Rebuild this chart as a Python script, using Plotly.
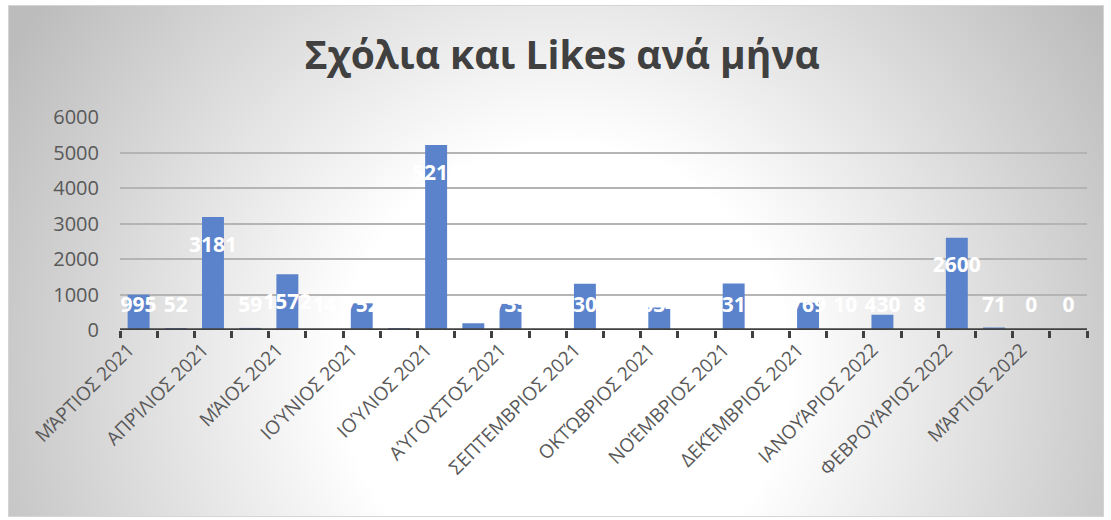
import base64
import plotly.graph_objects as go

# Month labels (one per pair of rows) and the monthly counts, in row order
months = [
    "ΜΆΡΤΙΟΣ 2021", "ΑΠΡΊΛΙΟΣ 2021", "ΜΆΙΟΣ 2021", "ΙΟΎΝΙΟΣ 2021",
    "ΙΟΎΛΙΟΣ 2021", "ΑΎΓΟΥΣΤΟΣ 2021", "ΣΕΠΤΕΜΒΡΙΟΣ 2021", "ΟΚΤΏΒΡΙΟΣ 2021",
    "ΝΟΈΜΒΡΙΟΣ 2021", "ΔΕΚΈΜΒΡΙΟΣ 2021", "ΙΑΝΟΥΆΡΙΟΣ 2022", "ΦΕΒΡΟΥΆΡΙΟΣ 2022",
    "ΜΆΡΤΙΟΣ 2022",
]
values = [
    995, 52, 3181, 59, 1572, 14, 752, 31, 5211, 190, 735, 23, 1302,
    18, 634, 21, 1313, 12, 769, 10, 430, 8, 2600, 71, 0, 0,
]
y_ticks = [0, 1000, 2000, 3000, 4000, 5000, 6000]

W, H = 1111, 520
ML, MR, MT, MB = 120, 24, 117, 190
PW, PH = W - ML - MR, H - MT - MB

positions = list(range(len(values)))

# Chart-area backdrop: soft radial gradient with a thin frame
AX0, AY0, AX1, AY1 = 8, 5, 1104, 517
aw, ah = AX1 - AX0, AY1 - AY0
svg = f"""<svg xmlns='http://www.w3.org/2000/svg' width='{aw}' height='{ah}' viewBox='0 0 {aw} {ah}' preserveAspectRatio='none'>
<defs><radialGradient id='g' gradientUnits='userSpaceOnUse' cx='{565-AX0}' cy='{370-AY0}' r='640'>
<stop offset='0' stop-color='#ffffff'/><stop offset='0.35' stop-color='#ffffff'/>
<stop offset='1' stop-color='#bcbcbc'/></radialGradient></defs>
<rect x='0.5' y='0.5' width='{aw-1}' height='{ah-1}' fill='url(#g)' stroke='#d4d4d4' stroke-width='1'/></svg>"""
bg_src = "data:image/svg+xml;base64," + base64.b64encode(svg.encode()).decode()

# Data labels sit just inside the top of each bar, never lower than a floor
label_offset = 830
label_floor = 648
label_y = [max(v - label_offset, label_floor) for v in values]

fig = go.Figure()
fig.add_trace(go.Bar(
    x=positions, y=values,
    marker=dict(color="#5B83CC", line=dict(width=0)),
    hoverinfo="y",
))
fig.add_trace(go.Scatter(
    x=positions, y=label_y, mode="text",
    text=[str(v) for v in values],
    textposition="middle center",
    textfont=dict(family="Open Sans", size=21, color="white", weight="bold"),
    hoverinfo="skip",
))

# Category axis baseline drawn over the foot of the bars
fig.add_shape(
    type="line", xref="paper", yref="y", x0=0, x1=1, y0=0, y1=0,
    line=dict(color="#404040", width=3.5), layer="above",
)

fig.update_layout(
    width=W, height=H,
    margin=dict(l=ML, r=MR, t=MT, b=MB),
    paper_bgcolor="white",
    plot_bgcolor="rgba(0,0,0,0)",
    showlegend=False,
    bargap=0.41,
    title=dict(
        text="<b>Σχόλια και Likes ανά μήνα</b>",
        x=0.506, xanchor="center",
        y=1 - 55 / H, yanchor="middle", yref="container",
        font=dict(family="Open Sans", size=39, color="#404040"),
    ),
    images=[dict(
        source=bg_src, xref="paper", yref="paper",
        x=(AX0 - ML) / PW, y=(H - MB - AY0) / PH,
        sizex=aw / PW, sizey=ah / PH,
        xanchor="left", yanchor="top", sizing="stretch", layer="below",
    )],
    xaxis=dict(
        range=[-0.5, len(values) - 0.5],
        tickmode="array",
        tickvals=positions[::2],
        ticktext=months,
        tickangle=-45,
        ticks="",
        ticklabelshift=-10,
        ticklabelstandoff=4,
        showgrid=False,
        zeroline=False,
        showline=False,
        tickfont=dict(family="Open Sans", size=19, color="#595959"),
        minor=dict(
            tickmode="array",
            tickvals=[p - 0.5 for p in positions] + [len(values) - 0.5],
            ticks="outside", ticklen=7, tickwidth=3, tickcolor="#404040",
            showgrid=False,
        ),
    ),
    yaxis=dict(
        range=[0, 6000],
        tickmode="array", tickvals=y_ticks,
        showgrid=True, gridcolor="#b4b4b4", gridwidth=1.5,
        zeroline=False, showline=False, ticks="",
        ticklabelstandoff=20,
        tickfont=dict(family="Open Sans", size=20, color="#595959"),
    ),
)

fig.write_html("out.html")
